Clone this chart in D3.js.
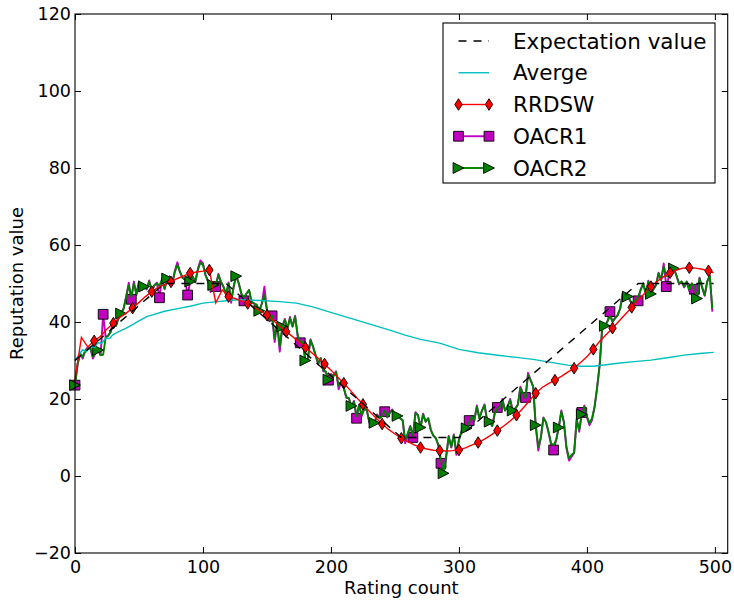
<!DOCTYPE html>
<html>
<head>
<meta charset="utf-8">
<script src="https://cdn.jsdelivr.net/npm/d3@7"></script>
<style>
  body { margin: 0; background: #fff; }
  svg { display: block; }
  text { font-family: "DejaVu Sans", "Liberation Sans", sans-serif; fill: #000; }
</style>
</head>
<body>
<svg id="chart" width="734" height="604"></svg>
<script>
// ---- data -------------------------------------------------------------
const xTicks = [0, 100, 200, 300, 400, 500];
const xTickLabels = ["0", "100", "200", "300", "400", "500"];
const yTicks = [-20, 0, 20, 40, 60, 80, 100, 120];
const yTickLabels = ["\u221220", "0", "20", "40", "60", "80", "100", "120"];

const legendLabels = ["Expectation value", "Averge", "RRDSW", "OACR1", "OACR2"];

// Expectation value: polyline vertices (rating count, value)
const expectCounts = [0, 70, 118, 255, 300, 440, 499];
const expectValues = [30, 50, 50, 10, 10, 50, 50];

// Average reputation
const avgCounts = [0, 3, 6, 9, 12, 15, 18, 21, 24, 27,
  30, 35, 40, 45, 50, 56, 62, 70, 82, 90,
  100, 111, 120, 130, 145, 160, 173, 185, 194, 207,
  220, 233, 246, 258, 270, 285, 300, 315, 332, 345,
  358, 372, 385, 395, 405, 415, 424, 437, 450, 463,
  476, 488, 499];
const avgValues = [30, 31.5, 32.8, 32.3, 33.6, 33.4, 34.6, 34.5, 35.8, 35.7,
  36.8, 37.6, 38.4, 39.3, 40.3, 41.4, 42, 42.8, 43.6, 44.1,
  44.9, 45.3, 45.6, 45.8, 45.6, 45.3, 44.9, 44, 43.1, 41.8,
  40.5, 39.2, 37.9, 36.6, 35.5, 34.5, 32.9, 32, 31.3, 30.8,
  30.3, 29.5, 28.8, 28.5, 28.5, 28.9, 29.3, 29.7, 30.1, 30.7,
  31.4, 31.8, 32.1];

// RRDSW, sampled every 5 ratings (last sample at 499)
const rrdswCounts = d3.range(0, 500, 5).concat([499]);
const rrdswValues = [
  25, 36, 33.5, 35.1, 36.3, 38.2, 39.7, 41.2, 42.3, 43.6,
  45.1, 46.6, 47.9, 49, 49.7, 50.4, 51.3, 52, 52.7, 53,
  53.2, 53.5, 45, 48.3, 46.6, 46.1, 45.5, 44.8, 43.8, 42.8,
  41.8, 40.4, 38.9, 37.5, 36.2, 34.8, 33.4, 32, 30.6, 29.1,
  27.5, 25.8, 24.1, 22.3, 20.4, 18.6, 16.8, 15.1, 13.5, 12.1,
  10.9, 9.8, 8.9, 8.1, 7.4, 7, 6.7, 6.6, 6.5, 6.6,
  6.75, 7.3, 8, 8.7, 9.6, 10.6, 11.8, 13, 14.3, 15.8,
  17.6, 19.5, 21.5, 23, 24, 24.9, 25.9, 27, 28, 29.5,
  31, 32.9, 35, 36.7, 38.4, 40.2, 42, 43.8, 45.6, 47.4,
  49.2, 50.6, 51.8, 52.8, 53.5, 54, 54.1, 54, 53.7, 53.3,
  52.8];

// OACR1 / OACR2, sampled every 2 ratings (0 .. 498)
const oacrCounts = d3.range(0, 500, 2);
const oacr1Values = [
  23.6, 29, 31.8, 30.5, 32.5, 33.5, 33.2, 30.5, 32, 32.7,
  31.4, 42, 36, 36.5, 37.5, 40.5, 39, 41, 42.2, 43.5,
  46.6, 50.2, 45.9, 50.5, 47, 50.5, 48.3, 49.2, 48.5, 50.8,
  48, 49.5, 50.2, 46.3, 51.3, 48.5, 51.3, 51.8, 50, 53.3,
  55.5, 53, 51.5, 51, 47, 50.5, 51.8, 50.3, 53.8, 56,
  55.2, 52.2, 50.5, 47.8, 49.6, 49.2, 52.5, 50.5, 49.2, 47,
  50.3, 45, 49.2, 52.2, 50, 47.2, 45.5, 47.4, 48.3, 45,
  44.8, 44.3, 42.9, 44.8, 49.2, 43, 40.2, 41.6, 34.8, 39.7,
  32.3, 38.8, 40.8, 38.2, 41.3, 38.8, 41.6, 36.3, 34.6, 34.9,
  29.7, 30.6, 35.5, 33.6, 31.2, 29, 30.6, 27.2, 27.1, 24.9,
  26.5, 26, 27.2, 22.5, 24.5, 22.8, 20.3, 20.2, 18, 19.5,
  15, 18.6, 15.5, 17.5, 17.1, 13.8, 14.5, 13.8, 16, 15,
  15.6, 16.7, 15.2, 16.5, 17.3, 15, 15.6, 15, 14.5, 8.5,
  11, 13, 10, 16.6, 15.8, 12.6, 16.2, 14.1, 15, 12,
  10.5, 9.8, 7.8, 3.3, 0.3, 5, 10.4, 7.4, 10.8, 5.5,
  9.4, 11.5, 13, 12.4, 14.4, 15.6, 14.3, 18.3, 15, 17,
  18.6, 14.3, 14.1, 13, 16.3, 17.8, 18, 20, 17, 18,
  20, 17, 17.5, 18.5, 23.2, 21.5, 20.4, 26.8, 24.9, 23.2,
  13, 6.6, 10, 15.2, 14, 11.3, 8.2, 6.75, 9.4, 12.6,
  17, 14, 7.2, 4, 5, 6, 14.8, 11.5, 16.5, 18.3,
  15.3, 13.2, 14.5, 18, 23, 29, 38.8, 39, 40.1, 42.7,
  40, 41, 41.8, 43.5, 47.6, 46.6, 46.6, 45.3, 44.5, 45.7,
  45.5, 48.5, 50, 47.2, 50.7, 47.3, 48.5, 49.6, 52.8, 50.9,
  55.2, 49.2, 51.8, 53.7, 53.9, 52, 49.8, 50.5, 49, 50.5,
  48, 50, 48.5, 46, 51.5, 49, 46.8, 50.5, 52.2, 42.7];
const oacr2Values = [
  23.6, 29, 31.8, 31, 32.5, 33, 33.2, 31, 32, 32.7,
  31.4, 31.5, 36, 36.5, 37.5, 40, 39, 41, 42.2, 43.5,
  46.6, 49.5, 46.5, 50, 47.4, 50.5, 48.3, 49.2, 48.7, 50.5,
  48.3, 49.5, 50, 49.5, 51, 48.7, 51.3, 51.8, 50, 53,
  54.8, 53, 51.5, 51, 52, 50.5, 51.8, 50.5, 53.5, 55.4,
  54.8, 52.2, 50.5, 48.3, 49.6, 49.4, 52.2, 50.5, 49.2, 47.4,
  50, 45.7, 49.2, 51.9, 50, 47.4, 46.5, 47.4, 48.3, 45.3,
  44.8, 44.5, 42.9, 44.8, 47, 43.1, 40.5, 41.6, 35.8, 39.7,
  33.6, 38.8, 40.5, 38.4, 41, 38.8, 41.4, 36.6, 34.6, 34.9,
  30, 30.6, 35.3, 33.6, 31.5, 29.3, 30.6, 27.5, 27.1, 25,
  26.2, 26, 27, 23.5, 24.5, 23, 20.5, 20.2, 18.2, 19.3,
  15.5, 18.4, 15.8, 17.5, 17.1, 14.1, 14.5, 13.8, 15.8, 15,
  15.6, 17, 15.4, 16.5, 17.1, 15, 15.6, 15, 14.5, 9.4,
  11, 12.8, 10.5, 16.3, 15.8, 12.6, 16, 14.1, 15, 12,
  10.5, 9.8, 8, 4, 0.7, 5, 10.2, 7.6, 10.6, 6,
  9.4, 11.5, 12.8, 12.4, 14, 15.4, 14.5, 18, 15, 17,
  18.4, 14.5, 14.1, 13, 16.3, 17.5, 18, 19.7, 17, 18,
  19.7, 17, 17.5, 18.5, 22.8, 21.5, 20.2, 26.2, 24.9, 23.2,
  13.2, 7.6, 10, 15, 14, 11.5, 8.5, 8, 9.4, 12.6,
  16.7, 14, 7.6, 4.6, 5.5, 6, 14.5, 12, 16, 18,
  15.5, 13.7, 15, 18, 23, 29, 38.8, 39, 40.1, 41.5,
  40.1, 41, 41.8, 43.5, 47.4, 46.6, 46.6, 45.5, 44.8, 45.7,
  46.5, 48.3, 50, 47.4, 50.5, 47.3, 48.5, 49.6, 52.6, 50.9,
  54.4, 52, 51.8, 53.5, 53.9, 52, 50, 50.5, 49.2, 50.5,
  48.3, 50, 49.2, 46.1, 51.3, 49, 47, 50.5, 52, 43.5];

// ---- layout -----------------------------------------------------------
const W = 734, H = 604;
const plot = { left: 75, right: 727.7, top: 14, bottom: 553 };

const svg = d3.select("#chart");
svg.append("rect").attr("width", W).attr("height", H).attr("fill", "#fff");

const x = d3.scaleLinear().domain([0, 510]).range([plot.left, plot.right]);
const y = d3.scaleLinear().domain([-20, 120]).range([plot.bottom, plot.top]);

const pts = (xs, ys) => xs.map((c, i) => [c, ys[i]]);
const line = d3.line().x(d => x(d[0])).y(d => y(d[1]));

const colors = { expect: "#000000", avg: "#00bfbf", rrdsw: "#ff0000", oacr1: "#bf00bf", oacr2: "#008000" };

// marker shapes
const markerPath = {
  diamond: "M0,-5.8L3.7,0L0,5.8L-3.7,0Z",
  square: "M-4.9,-4.9H4.9V4.9H-4.9Z",
  triangle: "M5.4,0L-5.4,-5.4L-5.4,5.4Z"
};

function drawMarkers(g, data, shape, fill) {
  g.selectAll(null).data(data).enter().append("path")
    .attr("d", markerPath[shape])
    .attr("transform", d => `translate(${x(d[0])},${y(d[1])})`)
    .attr("fill", fill)
    .attr("stroke", "#000")
    .attr("stroke-width", 0.9);
}

const gData = svg.append("g");

// OACR1
const oacr1 = pts(oacrCounts, oacr1Values);
gData.append("path").datum(oacr1).attr("d", line)
  .attr("fill", "none").attr("stroke", colors.oacr1).attr("stroke-width", 1.9)
  .attr("stroke-linejoin", "round");
drawMarkers(gData.append("g"), oacr1.filter(d => d[0] % 22 === 0), "square", colors.oacr1);

// OACR2
const oacr2 = pts(oacrCounts, oacr2Values);
gData.append("path").datum(oacr2).attr("d", line)
  .attr("fill", "none").attr("stroke", colors.oacr2).attr("stroke-width", 1.9)
  .attr("stroke-linejoin", "round");
drawMarkers(gData.append("g"), oacr2.filter(d => d[0] % 18 === 0), "triangle", colors.oacr2);

// Average
gData.append("path").datum(pts(avgCounts, avgValues)).attr("d", line)
  .attr("fill", "none").attr("stroke", colors.avg).attr("stroke-width", 1.4);

// RRDSW
const rrdsw = pts(rrdswCounts, rrdswValues);
gData.append("path").datum(rrdsw).attr("d", line)
  .attr("fill", "none").attr("stroke", colors.rrdsw).attr("stroke-width", 1.4);
drawMarkers(gData.append("g"), rrdsw.filter(d => d[0] > 0 && d[0] % 15 === 0), "diamond", colors.rrdsw);

// Expectation value
gData.append("path").datum(pts(expectCounts, expectValues)).attr("d", line)
  .attr("fill", "none").attr("stroke", colors.expect).attr("stroke-width", 1.4)
  .attr("stroke-dasharray", "8,7");

// ---- axes -------------------------------------------------------------
const tickLen = 6;
const xBottom = d3.axisBottom(x).tickValues(xTicks)
  .tickFormat((d, i) => xTickLabels[i]).tickSize(-tickLen).tickSizeOuter(0).tickPadding(7.5);
const xTop = d3.axisTop(x).tickValues(xTicks).tickFormat("").tickSize(-tickLen).tickSizeOuter(0);
const yLeft = d3.axisLeft(y).tickValues(yTicks)
  .tickFormat((d, i) => yTickLabels[i]).tickSize(-tickLen).tickSizeOuter(0).tickPadding(4);
const yRight = d3.axisRight(y).tickValues(yTicks).tickFormat("").tickSize(-tickLen).tickSizeOuter(0);

function styleAxis(g) {
  g.select(".domain").remove();
  g.selectAll(".tick line").attr("stroke", "#000").attr("stroke-width", 1);
  g.selectAll(".tick text").attr("font-size", 17.5).attr("fill", "#000")
    .style("font-family", '"DejaVu Sans", sans-serif');
}
svg.append("g").attr("transform", `translate(0,${plot.bottom})`).call(xBottom).call(styleAxis);
svg.append("g").attr("transform", `translate(0,${plot.top})`).call(xTop).call(styleAxis);
svg.append("g").attr("transform", `translate(${plot.left},0)`).call(yLeft).call(styleAxis);
svg.append("g").attr("transform", `translate(${plot.right},0)`).call(yRight).call(styleAxis);

// frame
svg.append("rect")
  .attr("x", plot.left).attr("y", plot.top)
  .attr("width", plot.right - plot.left).attr("height", plot.bottom - plot.top)
  .attr("fill", "none").attr("stroke", "#000").attr("stroke-width", 1.1);

// axis titles
svg.append("text").attr("x", (plot.left + plot.right) / 2).attr("y", 594)
  .attr("text-anchor", "middle").attr("font-size", 18).text("Rating count");
svg.append("text")
  .attr("transform", `translate(22.5,${(plot.top + plot.bottom) / 2}) rotate(-90)`)
  .attr("text-anchor", "middle").attr("font-size", 18).text("Reputation value");

// ---- legend -----------------------------------------------------------
const legend = svg.append("g");
legend.append("rect").attr("x", 443).attr("y", 23).attr("width", 272).attr("height", 160)
  .attr("fill", "#fff").attr("stroke", "#000").attr("stroke-width", 1.1);

const legendItems = [
  { key: "expect", shape: null, dash: "8,7" },
  { key: "avg", shape: null, dash: null },
  { key: "rrdsw", shape: "diamond", dash: null },
  { key: "oacr1", shape: "square", dash: null },
  { key: "oacr2", shape: "triangle", dash: null }
];
const rowY = d3.scalePoint().domain(d3.range(legendItems.length)).range([41, 168]);
const sx0 = 458.5, sx1 = 489;

legendItems.forEach((item, i) => {
  const cy = rowY(i);
  const g = legend.append("g");
  g.append("line").attr("x1", sx0).attr("x2", sx1).attr("y1", cy).attr("y2", cy)
    .attr("stroke", colors[item.key])
    .attr("stroke-width", item.key.startsWith("oacr") ? 1.9 : 1.4)
    .attr("stroke-dasharray", item.dash);
  if (item.shape) {
    [sx0, sx1].forEach(px => {
      g.append("path").attr("d", markerPath[item.shape])
        .attr("transform", `translate(${px},${cy})`)
        .attr("fill", colors[item.key]).attr("stroke", "#000").attr("stroke-width", 0.9);
    });
  }
  g.append("text").attr("x", 513).attr("y", cy).attr("dy", "0.36em")
    .attr("font-size", 21.5).text(legendLabels[i]);
});
</script>
</body>
</html>
